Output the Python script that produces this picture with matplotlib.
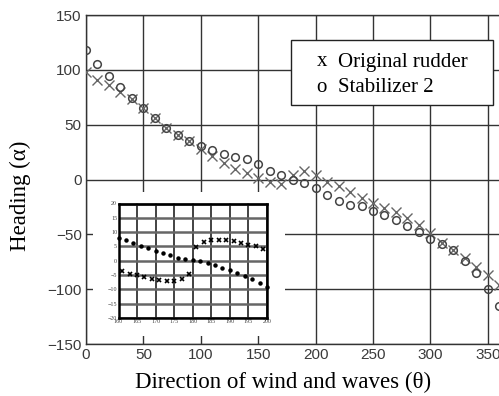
import numpy as np
import matplotlib
matplotlib.use("Agg")
from matplotlib import pyplot as plt
from matplotlib.patches import Rectangle

# main chart: heading vs direction, every 10 degrees
theta = list(range(0, 361, 10))
original_rudder = [98, 91, 86, 80, 73, 65, 56, 47, 41, 35, 28, 21, 15, 10, 6, 1.5,
                   -2.5, -4.5, 4, 7.5, 4, -2, -6, -11.5, -16.5, -21, -26, -30, -35.5,
                   -41.5, -48.5, -58, -64.5, -72, -79.5, -87, -96]
stabilizer2 = [118, 105, 94, 84, 74, 65, 56, 47, 41, 35, 31, 26.5, 23, 20.5, 18.5, 14,
               8, 4, 0, -3, -8, -14, -19.5, -23, -24, -29, -32.5, -37, -42, -47.5,
               -54, -58.5, -64.5, -74, -85, -100, -115]

# inset: zoom around 160..200
inset_dot_theta = list(range(160, 201, 2))
inset_dots = [8.1, 7.2, 6.2, 5.3, 4.3, 3.5, 2.7, 1.9, 1.1, 0.6, 0.3, -0.2, -0.8, -1.5,
              -2.4, -3.3, -4.3, -5.3, -6.4, -7.6, -9.0]
inset_x_theta = list(range(161, 200, 2))
inset_x = [-3.6, -4.5, -5.1, -5.8, -6.3, -6.8, -7.1, -7.0, -6.3, -4.8, 4.8, 6.6, 7.2,
           7.3, 7.1, 6.8, 6.3, 5.6, 5.0, 4.2]

xticks = list(range(0, 351, 50))
yticks = list(range(-150, 151, 50))
inset_xticks = list(range(160, 201, 5))
inset_yticks = list(range(-20, 21, 5))

W, H = 499, 396
fig = plt.figure(figsize=(W / 100, H / 100), dpi=100)

def fx(px):
    return px / W

def fy(py):
    return 1 - py / H

sans = ["Liberation Sans", "DejaVu Sans"]
serif = ["Liberation Serif", "DejaVu Serif"]

# main axes (runs a bit past the right edge of the picture)
left, right, top, bottom = 86, 86 + 370 * 1.148, 15, 344
ax = fig.add_axes([fx(left), fy(bottom), fx(right - left), (bottom - top) / H])
ax.set_xlim(0, 370)
ax.set_ylim(-150, 150)
ax.set_xticks(xticks)
ax.set_yticks(yticks)
ax.grid(True, color="#333333", linewidth=1.0)
ax.set_axisbelow(True)
ax.tick_params(length=0, pad=3, labelsize=11, labelcolor="#3a3a3a")
for lab in ax.get_xticklabels() + ax.get_yticklabels():
    lab.set_family(sans)
for s in ax.spines.values():
    s.set_color("#333333")
    s.set_linewidth(1.0)

ax.plot(theta, original_rudder, linestyle="none", marker="x", markersize=6.5,
        markeredgewidth=1.0, color="#666666", zorder=3)
ax.plot(theta, stabilizer2, linestyle="none", marker="o", markersize=5.5,
        markeredgewidth=1.1, markerfacecolor="none", markeredgecolor="#444444", zorder=3)

# legend box drawn as text
fig.add_artist(Rectangle((fx(291), fy(105)), fx(493 - 291), (105 - 40) / H,
                         transform=fig.transFigure, facecolor="white",
                         edgecolor="#222222", linewidth=1.0, zorder=4))
for yb, mark, label in [(66.5, "x", "Original rudder"), (91.5, "o", "Stabilizer 2")]:
    fig.text(fx(316.5), fy(yb), mark, family=serif, fontsize=15, va="baseline", zorder=5)
    fig.text(fx(338), fy(yb), label, family=serif, fontsize=15, va="baseline", zorder=5)

fig.text(fx(283), fy(388), "Direction of wind and waves (\u03b8)", family=serif,
         fontsize=16.5, ha="center", va="baseline")
fig.text(fx(20), fy(196), "Heading (\u03b1)", family=serif, fontsize=16.5,
         rotation=90, ha="center", va="center")

# white area behind the inset
fig.add_artist(Rectangle((fx(93), fy(336)), fx(285 - 93), (336 - 192) / H,
                         transform=fig.transFigure, facecolor="white",
                         edgecolor="none", zorder=1))

ia = fig.add_axes([fx(118.5), fy(318), fx(267 - 118.5), (318 - 203.5) / H], zorder=2)
ia.set_xlim(160, 200)
ia.set_ylim(-20, 20)
ia.set_xticks(inset_xticks)
ia.set_yticks(inset_yticks)
ia.xaxis.grid(True, color="#222222", linewidth=1.2)
ia.yaxis.grid(True, color="#666666", linewidth=1.8)
ia.set_axisbelow(True)
ia.tick_params(length=0, pad=1, labelsize=4.3, labelcolor="#444444")
for lab in ia.get_xticklabels() + ia.get_yticklabels():
    lab.set_family(serif)
for s in ia.spines.values():
    s.set_color("black")
    s.set_linewidth(1.8)
ia.plot(inset_dot_theta, inset_dots, linestyle="none", marker="o", markersize=2.2,
        color="black", clip_on=False)
ia.plot(inset_x_theta, inset_x, linestyle="none", marker="x", markersize=3.2,
        markeredgewidth=1.2, color="black")

fig.savefig("out.png", dpi=100)
